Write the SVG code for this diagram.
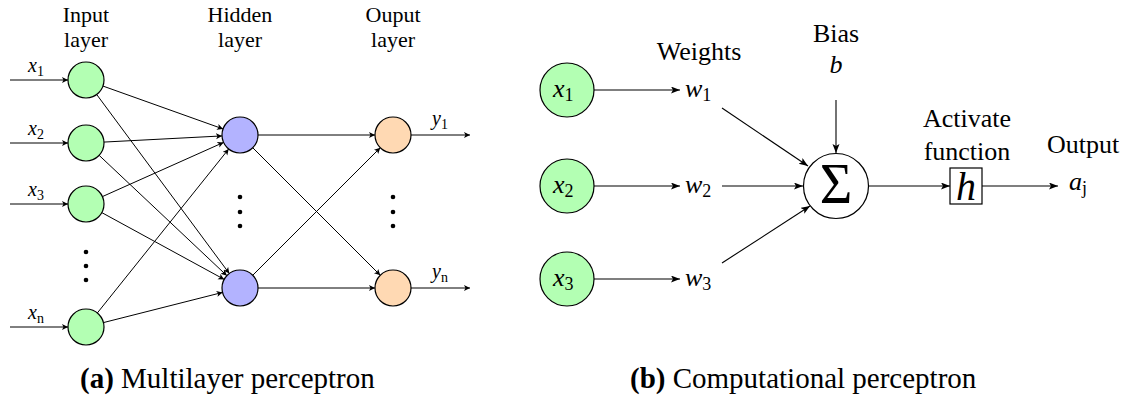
<svg xmlns="http://www.w3.org/2000/svg" width="1130" height="398" viewBox="0 0 1130 398">
<defs>
<marker id="a1" markerUnits="userSpaceOnUse" markerWidth="8" markerHeight="8" refX="6" refY="3" orient="auto"><path d="M0,0 L6,3 L0,6 L1.5,3 Z" fill="#000"/></marker>
<marker id="a2" markerUnits="userSpaceOnUse" markerWidth="10" markerHeight="10" refX="9" refY="3.5" orient="auto"><path d="M0,0 L9,3.5 L0,7 L2,3.5 Z" fill="#000"/></marker>
</defs>
<style>
text{fill:#000;font-family:Liberation Serif, Times New Roman, DejaVu Serif, Noto Serif, serif}
.hd{font-size:22px;text-anchor:middle}
.m{font-style:italic;font-size:20px}
.mb{font-style:italic;font-size:26px}
.sub{font-style:normal;font-size:14px}
.subb{font-style:normal;font-size:18px}
.lb{font-size:26px;text-anchor:middle}
.cap{font-size:29px}
.in{fill:#b3ffb3;stroke:#000;stroke-width:1.2}
.hid{fill:#b3b3ff;stroke:#000;stroke-width:1.2}
.out{fill:#ffd9b3;stroke:#000;stroke-width:1.2}
.c1 line{stroke:#000;stroke-width:1;marker-end:url(#a1)}
.c2 line{stroke:#000;stroke-width:1.1;marker-end:url(#a2)}
</style>
<rect width="1130" height="398" fill="#fff"/>
<g>
<!-- Left: headers -->
<text class="hd" x="86" y="22">Input</text><text class="hd" x="86" y="47">layer</text>
<text class="hd" x="240" y="22">Hidden</text><text class="hd" x="240" y="47">layer</text>
<text class="hd" x="393" y="22">Ouput</text><text class="hd" x="393" y="47">layer</text>

<g id="connectors-a" class="c1">
<line x1="10" y1="80" x2="68" y2="80"/>
<line x1="10" y1="143" x2="68" y2="143"/>
<line x1="10" y1="204" x2="68" y2="204"/>
<line x1="10" y1="327" x2="68" y2="327"/>
<line x1="102.95" y1="86.05" x2="223.05" y2="128.95"/>
<line x1="96.7" y1="94.5" x2="229.3" y2="273.5"/>
<line x1="104" y1="142.07" x2="222" y2="135.93"/>
<line x1="99.1" y1="155.3" x2="226.9" y2="275.7"/>
<line x1="102.4" y1="196.6" x2="223.6" y2="142.4"/>
<line x1="101.8" y1="212.6" x2="224.2" y2="279.4"/>
<line x1="97.3" y1="313" x2="228.7" y2="149"/>
<line x1="103.4" y1="322.6" x2="222.6" y2="292.4"/>
<line x1="258" y1="135" x2="375" y2="135"/>
<line x1="252.7" y1="147.7" x2="380.3" y2="275.3"/>
<line x1="252.7" y1="275.3" x2="380.3" y2="147.7"/>
<line x1="258" y1="288" x2="375" y2="288"/>
<line x1="411" y1="135" x2="470" y2="135"/>
<line x1="411" y1="288" x2="470" y2="288"/>
</g>

<g id="in1"><circle class="in" cx="86" cy="80" r="18"/><text class="m" x="28" y="72">x<tspan class="sub" dy="4">1</tspan></text></g>
<g id="in2"><circle class="in" cx="86" cy="143" r="18"/><text class="m" x="28" y="135">x<tspan class="sub" dy="4">2</tspan></text></g>
<g id="in3"><circle class="in" cx="86" cy="204" r="18"/><text class="m" x="28" y="196">x<tspan class="sub" dy="4">3</tspan></text></g>
<g id="inn"><circle class="in" cx="86" cy="327" r="18"/><text class="m" x="28" y="319">x<tspan class="sub" dy="4" font-style="italic">n</tspan></text></g>
<g id="hid1"><circle class="hid" cx="240" cy="135" r="18"/></g>
<g id="hid2"><circle class="hid" cx="240" cy="288" r="18"/></g>
<g id="out1"><circle class="out" cx="393" cy="135" r="18"/><text class="m" x="432" y="125">y<tspan class="sub" dy="4">1</tspan></text></g>
<g id="out2"><circle class="out" cx="393" cy="288" r="18"/><text class="m" x="432" y="278">y<tspan class="sub" dy="4" font-style="italic">n</tspan></text></g>

<g id="dots" fill="#000">
<circle cx="86" cy="252" r="2.3"/><circle cx="86" cy="266" r="2.3"/><circle cx="86" cy="280" r="2.3"/>
<circle cx="240" cy="197" r="2.3"/><circle cx="240" cy="212" r="2.3"/><circle cx="240" cy="226" r="2.3"/>
<circle cx="393" cy="197" r="2.3"/><circle cx="393" cy="212" r="2.3"/><circle cx="393" cy="226" r="2.3"/>
</g>

<text class="cap" x="80" y="388"><tspan font-weight="bold">(a)</tspan> Multilayer perceptron</text>

<!-- Right -->
<text class="lb" x="699" y="60">Weights</text>
<text class="lb" x="836" y="42">Bias</text>
<text class="mb" x="836" y="73" text-anchor="middle">b</text>
<text class="lb" x="967" y="127">Activate</text>
<text class="lb" x="967" y="160">function</text>
<text class="lb" x="1083" y="153">Output</text>

<g id="connectors-b" class="c2">
<line x1="594" y1="90" x2="680" y2="90"/>
<line x1="594" y1="186" x2="680" y2="186"/>
<line x1="594" y1="279" x2="680" y2="279"/>
<line x1="722" y1="108" x2="808" y2="166"/>
<line x1="722" y1="186" x2="803" y2="186"/>
<line x1="722" y1="263" x2="810" y2="206"/>
<line x1="836" y1="100" x2="836" y2="153"/>
<line x1="868" y1="186" x2="950" y2="186"/>
<line x1="982" y1="186" x2="1058" y2="186"/>
</g>

<g id="x1"><circle class="in" cx="567" cy="90" r="27"/><text class="mb" x="553" y="97">x<tspan class="subb" dy="4">1</tspan></text></g>
<g id="x2"><circle class="in" cx="567" cy="186" r="27"/><text class="mb" x="553" y="193">x<tspan class="subb" dy="4">2</tspan></text></g>
<g id="x3"><circle class="in" cx="567" cy="279" r="27"/><text class="mb" x="553" y="286">x<tspan class="subb" dy="4">3</tspan></text></g>
<g id="w1"><text class="mb" x="685" y="97">w<tspan class="subb" dy="4">1</tspan></text></g>
<g id="w2"><text class="mb" x="685" y="193">w<tspan class="subb" dy="4">2</tspan></text></g>
<g id="w3"><text class="mb" x="685" y="286">w<tspan class="subb" dy="4">3</tspan></text></g>
<g id="sum"><circle cx="836" cy="186" r="32.5" fill="#fff" stroke="#000" stroke-width="1.2"/><text x="836" y="203" font-size="56" text-anchor="middle">Σ</text></g>
<g id="h"><rect x="950" y="168" width="32" height="36" fill="#fff" stroke="#000" stroke-width="1.2"/><text x="966" y="200" font-size="40" font-style="italic" text-anchor="middle">h</text></g>
<g id="aj"><text class="mb" x="1069" y="190">a<tspan class="subb" dy="4" font-style="italic">j</tspan></text></g>

<text class="cap" x="630" y="388"><tspan font-weight="bold">(b)</tspan> Computational perceptron</text>
</g>
</svg>
